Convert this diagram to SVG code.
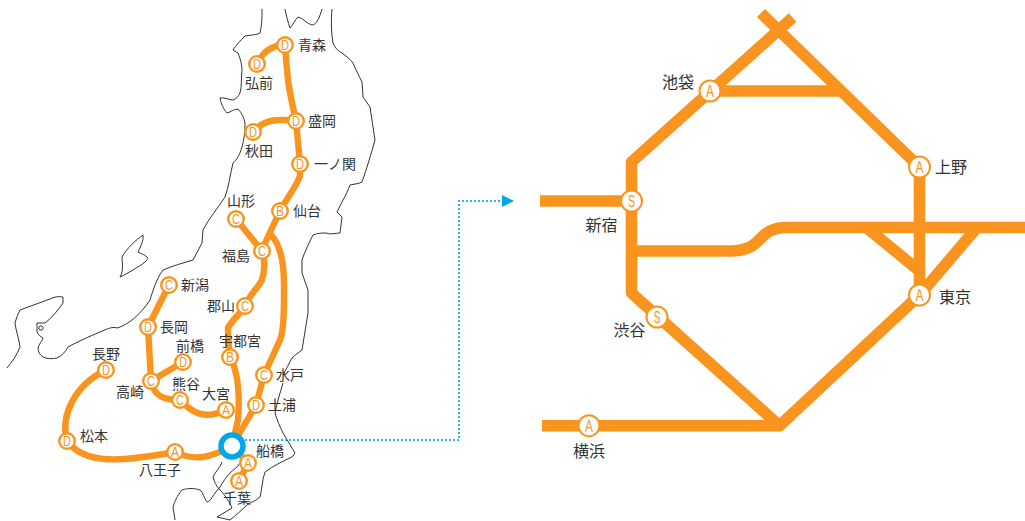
<svg xmlns="http://www.w3.org/2000/svg" width="1025" height="521" viewBox="0 0 1025 521">
<style>
.map{fill:none;stroke:#333;stroke-width:1;stroke-linejoin:round}
.ln{fill:none;stroke:#f9951e;stroke-linejoin:round}
.l1{stroke-width:6.4}
.l2{stroke-width:11.5}
.st{fill:#fff;stroke:#f9951e}
.s1{stroke-width:2.4}
.s2{stroke-width:2}
.ltr{fill:#f9951e;text-anchor:middle;font-family:"Liberation Sans Narrow","Liberation Sans",sans-serif}
.t1{font-size:14px}
.t2{font-size:16.5px}
.lb{fill:#333;font-family:"Noto Sans CJK JP",sans-serif}
.b1{font-size:14px}
.b2{font-size:16px}
</style>
<rect width="1025" height="521" fill="#fff"/>
<g id="map">
<path class="map" d="M262,9 C262,18 262,25 260,33 C257,35 250,35 245,36 C241,40 236,45 233,50 L238,53 C240,58 242,64 242,70 C241,78 242,86 240,93 C238,97 236,99 233,100 C229,100 225,97 220,98 C221,104 224,110 227,113 C231,112 234,109 238,109 C242,113 244,118 245,123 C245,132 244,140 242,147 C240,154 237,160 233,163 C230,175 229,186 225,197 C218,208 209,218 203,230 L202,243 L193,260 C183,263 172,266 163,270 C157,278 153,290 150,300 C140,315 128,325 117,328 C112,326 105,330 100,332 C88,337 77,342 68,347 C65,352 62,356 57,358 C52,359 47,359 43,357 C40,355 38,352 38,348 C39,344 42,341 43,338 C40,336 38,335 37,332 L37,323 L45,323 C52,318 58,310 63,303 L63,297 C58,296 54,297 50,299 C40,303 30,306 20,310 C18,314 16,319 15,323 C16,331 19,339 20,347 C17,355 12,362 7,368"/>
<path class="map" d="M143,235 C136,240 127,248 122,257 C122,263 124,270 120,277 C125,275 129,272 133,270 C137,267 142,265 145,262 C148,259 148,258 147,257 C144,254 141,254 138,252 C140,247 144,241 143,235Z"/>
<circle class="map" cx="41" cy="328" r="2.2"/>
<path class="map" d="M285,9 C286,15 288,22 290,28 C293,25 295,20 298,17 C303,18 307,24 312,25 C317,25 320,16 322,9"/>
<path class="map" d="M332,9 C331,20 331,32 333,43 C335,48 338,51 342,53 C346,56 350,59 353,63 C356,70 359,76 362,82 L363,97 L370,107 C372,118 373,129 375,140 C371,154 367,168 362,182 C358,184 354,184 350,185 C348,190 346,195 343,200 L337,212 L342,217 L340,233 C335,233 330,235 326,233 C322,233 318,233 313,235 C309,243 305,251 302,260 L302,273 L308,290 L308,313 L302,350 C298,353 295,355 292,358 C289,364 286,369 283,375"/>
<path class="map" d="M283,383 C280,393 277,403 275,413 C277,420 280,427 283,433 C287,440 291,446 295,453 L292,457 C283,461 273,466 265,472 C262,480 262,490 260,497 C256,501 251,502 247,505 C242,510 236,515 230,520 L217,517 L232,508 C230,503 226,496 220,490 C216,486 214,481 213,477 C215,472 220,468 222,462"/>
<path class="map" d="M240,463 C237,468 233,470 230,473 C226,477 223,482 220,487 L215,493 C212,497 210,502 207,502 C204,498 203,492 200,490 C194,488 188,488 182,490 C177,496 175,501 173,507 L175,520"/>
</g>
<g id="connectors">
<path class="ln l1" d="M257,64 Q266,45 285,45 C286,60 287,70 288,80 C290,95 293,108 296,121 L300,164 L300,176 C296,187 287,198 280,211 L266,241 L262,251 C265,258 265,270 262,280 C258,288 250,294 245,306 C240,314 232,320 228,328 C228,338 229,347 230,357 C238,372 240,395 238,420 L232,446"/>
<path class="ln l1" d="M253,132 C265,118 280,119 296,121"/>
<path class="ln l1" d="M236,219 L262,251"/>
<path class="ln l1" d="M271,235 C281,245 284,262 284,285 C284,310 284,330 280,340 L264,375 L256,405 L232,446"/>
<path class="ln l1" d="M169,285 L148,327 L151,381 C154,397 165,400 180,400 C192,413 205,420 226,410"/>
<path class="ln l1" d="M183,362 L151,381"/>
<path class="ln l1" d="M106,370 C75,385 60,415 67,441 C85,465 120,462 175,452 C195,462 212,457 232,446"/>
<path class="ln l1" d="M232,446 L248,463 L239,481"/>
<path class="ln l2" d="M761,13 L919.5,167 V295"/>
<path class="ln l2" d="M792.6,17.5 L631.5,162 V293 L779.5,425.7 L919.5,295 L977,227.5"/>
<path class="ln l2" d="M710,91 H839"/>
<path class="ln l2" d="M540,201 H631.5"/>
<path class="ln l2" d="M542,425.7 H779.5"/>
<path class="ln l2" d="M631.5,251 H731 C765,251 755,227.5 787,227.5 H1025"/>
<path class="ln l2" d="M867,228 L919.5,271"/>
<path d="M245,440 H459 V201 H503" fill="none" stroke="#29b6e8" stroke-width="2" stroke-dasharray="2 2"/>
<path d="M502,195 L514,201 L502,207Z" fill="#00a7ea"/>
</g>
<g id="hub"><circle cx="232" cy="446" r="11" fill="#fff" stroke="#00a7ea" stroke-width="5.5"/></g>
<g id="aomori"><circle class="st s1" cx="285" cy="45" r="7.8"/><text class="ltr t1" x="285" y="50" textLength="8" lengthAdjust="spacingAndGlyphs">D</text><text class="lb b1" x="298" y="50">青森</text></g>
<g id="hirosaki"><circle class="st s1" cx="257" cy="64" r="7.8"/><text class="ltr t1" x="257" y="69" textLength="8" lengthAdjust="spacingAndGlyphs">D</text><text class="lb b1" x="245" y="88">弘前</text></g>
<g id="morioka"><circle class="st s1" cx="296" cy="121" r="7.8"/><text class="ltr t1" x="296" y="126" textLength="8" lengthAdjust="spacingAndGlyphs">D</text><text class="lb b1" x="308" y="126">盛岡</text></g>
<g id="akita"><circle class="st s1" cx="253" cy="132" r="7.8"/><text class="ltr t1" x="253" y="137" textLength="8" lengthAdjust="spacingAndGlyphs">D</text><text class="lb b1" x="245" y="156">秋田</text></g>
<g id="ichinoseki"><circle class="st s1" cx="300" cy="164" r="7.8"/><text class="ltr t1" x="300" y="169" textLength="8" lengthAdjust="spacingAndGlyphs">D</text><text class="lb b1" x="314" y="169">一ノ関</text></g>
<g id="sendai"><circle class="st s1" cx="280" cy="211" r="7.8"/><text class="ltr t1" x="280" y="216" textLength="8" lengthAdjust="spacingAndGlyphs">B</text><text class="lb b1" x="293" y="216">仙台</text></g>
<g id="yamagata"><circle class="st s1" cx="236" cy="219" r="7.8"/><text class="ltr t1" x="236" y="224" textLength="8" lengthAdjust="spacingAndGlyphs">C</text><text class="lb b1" x="227" y="206">山形</text></g>
<g id="fukushima"><circle class="st s1" cx="262" cy="251" r="7.8"/><text class="ltr t1" x="262" y="256" textLength="8" lengthAdjust="spacingAndGlyphs">C</text><text class="lb b1" x="222" y="261">福島</text></g>
<g id="niigata"><circle class="st s1" cx="169" cy="285" r="7.8"/><text class="ltr t1" x="169" y="290" textLength="8" lengthAdjust="spacingAndGlyphs">C</text><text class="lb b1" x="181" y="290">新潟</text></g>
<g id="koriyama"><circle class="st s1" cx="245" cy="306" r="7.8"/><text class="ltr t1" x="245" y="311" textLength="8" lengthAdjust="spacingAndGlyphs">C</text><text class="lb b1" x="207" y="311">郡山</text></g>
<g id="nagaoka"><circle class="st s1" cx="148" cy="327" r="7.8"/><text class="ltr t1" x="148" y="332" textLength="8" lengthAdjust="spacingAndGlyphs">D</text><text class="lb b1" x="160" y="332">長岡</text></g>
<g id="maebashi"><circle class="st s1" cx="183" cy="362" r="7.8"/><text class="ltr t1" x="183" y="367" textLength="8" lengthAdjust="spacingAndGlyphs">D</text><text class="lb b1" x="176" y="351">前橋</text></g>
<g id="utsunomiya"><circle class="st s1" cx="230" cy="357" r="7.8"/><text class="ltr t1" x="230" y="362" textLength="8" lengthAdjust="spacingAndGlyphs">B</text><text class="lb b1" x="219" y="346">宇都宮</text></g>
<g id="takasaki"><circle class="st s1" cx="151" cy="381" r="7.8"/><text class="ltr t1" x="151" y="386" textLength="8" lengthAdjust="spacingAndGlyphs">C</text><text class="lb b1" x="116" y="397">高崎</text></g>
<g id="mito"><circle class="st s1" cx="264" cy="375" r="7.8"/><text class="ltr t1" x="264" y="380" textLength="8" lengthAdjust="spacingAndGlyphs">C</text><text class="lb b1" x="276" y="380">水戸</text></g>
<g id="kumagaya"><circle class="st s1" cx="180" cy="400" r="7.8"/><text class="ltr t1" x="180" y="405" textLength="8" lengthAdjust="spacingAndGlyphs">C</text><text class="lb b1" x="172" y="389">熊谷</text></g>
<g id="tsuchiura"><circle class="st s1" cx="256" cy="405" r="7.8"/><text class="ltr t1" x="256" y="410" textLength="8" lengthAdjust="spacingAndGlyphs">D</text><text class="lb b1" x="268" y="410">土浦</text></g>
<g id="omiya"><circle class="st s1" cx="226" cy="410" r="7.8"/><text class="ltr t1" x="226" y="415" textLength="8" lengthAdjust="spacingAndGlyphs">A</text><text class="lb b1" x="202" y="399">大宮</text></g>
<g id="nagano"><circle class="st s1" cx="106" cy="370" r="7.8"/><text class="ltr t1" x="106" y="375" textLength="8" lengthAdjust="spacingAndGlyphs">D</text><text class="lb b1" x="92" y="359">長野</text></g>
<g id="matsumoto"><circle class="st s1" cx="67" cy="441" r="7.8"/><text class="ltr t1" x="67" y="446" textLength="8" lengthAdjust="spacingAndGlyphs">D</text><text class="lb b1" x="80" y="441">松本</text></g>
<g id="hachioji"><circle class="st s1" cx="175" cy="452" r="7.8"/><text class="ltr t1" x="175" y="457" textLength="8" lengthAdjust="spacingAndGlyphs">A</text><text class="lb b1" x="139" y="475">八王子</text></g>
<g id="funabashi"><circle class="st s1" cx="248" cy="463" r="7.8"/><text class="ltr t1" x="248" y="468" textLength="8" lengthAdjust="spacingAndGlyphs">A</text><text class="lb b1" x="256" y="456">船橋</text></g>
<g id="chiba"><circle class="st s1" cx="239" cy="481" r="7.8"/><text class="ltr t1" x="239" y="486" textLength="8" lengthAdjust="spacingAndGlyphs">A</text><text class="lb b1" x="223" y="503">千葉</text></g>
<g id="ikebukuro"><circle class="st s2" cx="710" cy="91" r="10.5"/><text class="ltr t2" x="710" y="97" textLength="8" lengthAdjust="spacingAndGlyphs">A</text><text class="lb b2" x="662" y="88">池袋</text></g>
<g id="ueno"><circle class="st s2" cx="919.5" cy="167" r="10.5"/><text class="ltr t2" x="919.5" y="173" textLength="8" lengthAdjust="spacingAndGlyphs">A</text><text class="lb b2" x="935" y="173">上野</text></g>
<g id="shinjuku"><circle class="st s2" cx="631.5" cy="201" r="10.5"/><text class="ltr t2" x="631.5" y="207" textLength="7" lengthAdjust="spacingAndGlyphs">S</text><text class="lb b2" x="585.5" y="231">新宿</text></g>
<g id="tokyo"><circle class="st s2" cx="919.5" cy="295" r="10.5"/><text class="ltr t2" x="919.5" y="301" textLength="8" lengthAdjust="spacingAndGlyphs">A</text><text class="lb b2" x="939" y="303">東京</text></g>
<g id="shibuya"><circle class="st s2" cx="657" cy="317" r="10.5"/><text class="ltr t2" x="657" y="323" textLength="7" lengthAdjust="spacingAndGlyphs">S</text><text class="lb b2" x="613.5" y="336">渋谷</text></g>
<g id="yokohama"><circle class="st s2" cx="589" cy="425.7" r="10.5"/><text class="ltr t2" x="589" y="431.5" textLength="8" lengthAdjust="spacingAndGlyphs">A</text><text class="lb b2" x="573" y="457">横浜</text></g>
</svg>
